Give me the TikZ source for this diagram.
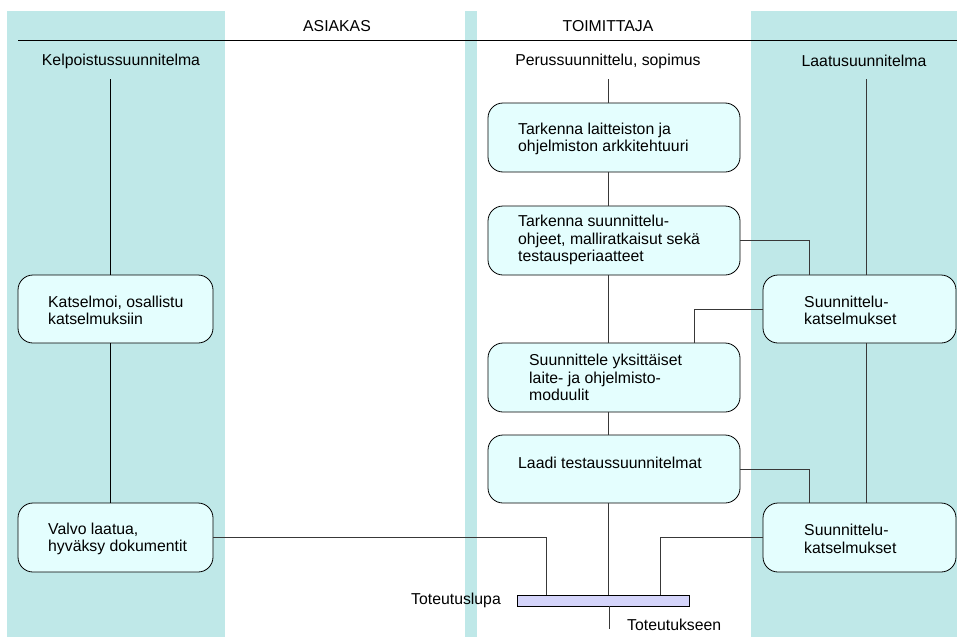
\documentclass[tikz,border=0pt]{standalone}
\usepackage{fontspec}
\setmainfont{Liberation Sans}
\definecolor{band}{HTML}{BFE8E8}
\definecolor{boxfill}{HTML}{E4FEFE}
\definecolor{barfill}{HTML}{D4D4FA}
\definecolor{wire}{HTML}{383838}
\begin{document}
\begin{tikzpicture}[x=1pt,y=-1pt,
  every node/.style={font=\fontsize{15.8}{17.6}\selectfont},
  task/.style={draw=black,line width=0.8pt,fill=boxfill,rounded corners=15pt,inner sep=0pt},
  label/.style={inner sep=0pt,align=left,anchor=west},
  title/.style={inner sep=0pt},
  wireline/.style={draw=wire,line width=0.8pt},
  rule/.style={draw=black,line width=0.8pt}]
\useasboundingbox (0,0) rectangle (957,637);
% lane backgrounds
\fill[band] (7,11) rectangle (225,637);
\fill[band] (465,11) rectangle (477,637);
\fill[band] (751,11) rectangle (957,637);
% header rule
\coordinate (h0) at (18,40);
\coordinate (h1) at (957,40);
\draw[rule] (h0) -- (h1);
% headings
\node[title] (asiakas) at (337,26) {ASIAKAS};
\node[title] (toimittaja) at (608,26) {TOIMITTAJA};
\node[title] (kelp) at (121,61) {Kelpoistussuunnitelma};
\node[title] (perus) at (608,61) {Perussuunnittelu, sopimus};
\node[title] (laatu) at (864,61) {Laatusuunnitelma};
% column line starts
\coordinate (kx) at (110,79);
\coordinate (px) at (608,79);
\coordinate (lx) at (866,79);
\coordinate (rx) at (809,0);
\coordinate (sx) at (694,0);
\coordinate (ux) at (660,0);
\coordinate (vx) at (546,0);
\coordinate (end) at (609,629);
% supplier tasks
\node[task,minimum width=252,minimum height=69] (b1) at (614,137.5) {};
\node[label] (t1) at (518,139) {Tarkenna laitteiston ja\\ohjelmiston arkkitehtuuri};
\node[task,minimum width=252,minimum height=69] (b2) at (614,240.5) {};
\node[label] (t2) at (518,240) {Tarkenna suunnittelu-\\ohjeet, malliratkaisut sekä\\testausperiaatteet};
\node[task,minimum width=252,minimum height=69] (b3) at (614,377.5) {};
\node[label] (t3) at (529,377.5) {Suunnittele yksittäiset\\laite- ja ohjelmisto-\\moduulit};
\node[task,minimum width=252,minimum height=68] (b4) at (614,469) {};
\node[label] (t4) at (518,462.5) {Laadi testaussuunnitelmat};
% customer tasks
\node[task,minimum width=195,minimum height=68] (k1) at (115.5,309) {};
\node[label] (tk1) at (48,310.5) {Katselmoi, osallistu\\katselmuksiin};
\node[task,minimum width=195,minimum height=69] (k2) at (115.5,537.5) {};
\node[label] (tk2) at (48,539) {Valvo laatua,\\hyväksy dokumentit};
% quality reviews
\node[task,minimum width=193,minimum height=68] (q1) at (859.5,309) {};
\node[label] (tq1) at (804,310.5) {Suunnittelu-\\katselmukset};
\node[task,minimum width=193,minimum height=69] (q2) at (859.5,537.5) {};
\node[label] (tq2) at (804,539) {Suunnittelu-\\katselmukset};
% implementation permit bar
\node[draw=black,line width=0.8pt,fill=barfill,minimum width=172,minimum height=11,inner sep=0pt] (bar) at (603,600.5) {};
\node[title,anchor=east] (lupa) at (501,600) {Toteutuslupa};
\node[title,anchor=west] (tot) at (627,624.5) {Toteutukseen};
% supplier flow
\draw[wireline] (px) -- (px |- b1.north);
\draw[wireline] (px |- b1.south) -- (px |- b2.north);
\draw[wireline] (px |- b2.south) -- (px |- b3.north);
\draw[wireline] (px |- b3.south) -- (px |- b4.north);
\draw[wireline] (px |- b4.south) -- (px |- bar.north);
\draw[wireline] (end |- bar.south) -- (end);
% customer flow
\draw[rule] (kx) -- (kx |- k1.north);
\draw[rule] (kx |- k1.south) -- (kx |- k2.north);
% quality flow
\draw[wireline] (lx) -- (lx |- q1.north);
\draw[wireline] (lx |- q1.south) -- (lx |- q2.north);
% cross links
\draw[wireline] (b2.east) -| (rx |- q1.north);
\draw[wireline] (q1.west) -| (sx |- b3.north);
\draw[wireline] (b4.east) -| (rx |- q2.north);
\draw[wireline] (q2.west) -| (ux |- bar.north);
\draw[wireline] (k2.east) -| (vx |- bar.north);
\end{tikzpicture}
\end{document}
